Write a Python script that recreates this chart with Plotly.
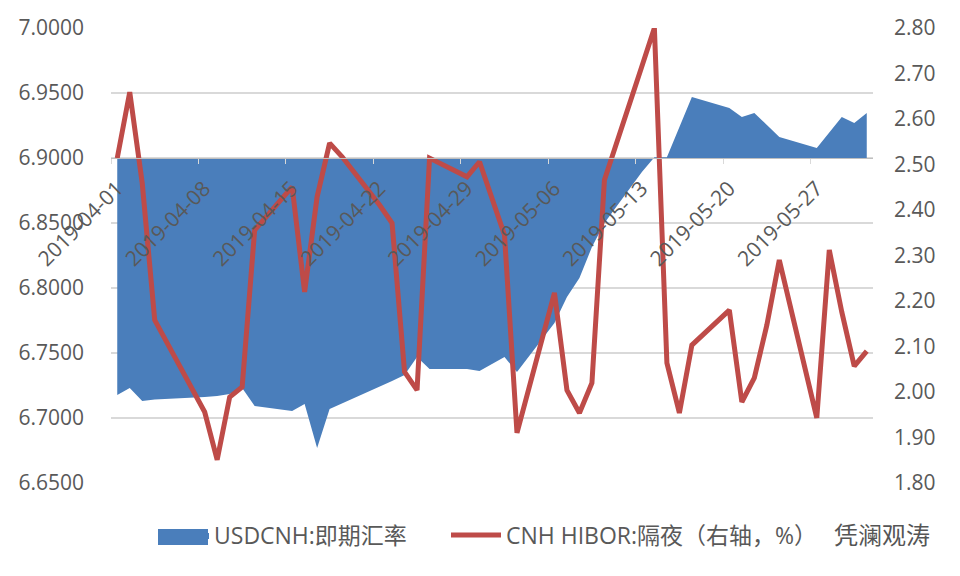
import plotly.graph_objects as go
import pandas as pd

dates = ["2019-04-01","2019-04-02","2019-04-03","2019-04-04","2019-04-08","2019-04-09","2019-04-10","2019-04-11","2019-04-12",
         "2019-04-15","2019-04-16","2019-04-17","2019-04-18","2019-04-19","2019-04-22","2019-04-23","2019-04-24","2019-04-25","2019-04-26",
         "2019-04-29","2019-04-30","2019-05-02","2019-05-03","2019-05-06","2019-05-07","2019-05-08","2019-05-09","2019-05-10",
         "2019-05-13","2019-05-14","2019-05-15","2019-05-16","2019-05-17","2019-05-20","2019-05-21","2019-05-22","2019-05-23","2019-05-24",
         "2019-05-27","2019-05-28","2019-05-29","2019-05-30","2019-05-31"]
usdcnh = [6.7177,6.7231,6.7131,6.7143,6.7162,6.7170,6.7185,6.7231,6.7092,
          6.7054,6.7108,6.6769,6.7069,6.7112,6.7238,6.7285,6.7331,6.7469,6.7377,
          6.7377,6.7362,6.7469,6.7354,6.7731,6.7931,6.8077,6.8315,6.8500,
          6.8892,6.9005,6.9005,6.9239,6.9469,6.9385,6.9315,6.9346,6.9254,6.9162,
          6.9077,6.9200,6.9315,6.9269,6.9346]
hibor = [2.514,2.659,2.459,2.158,1.956,1.851,1.989,2.011,2.356,
         2.451,2.220,2.429,2.547,2.517,2.411,2.371,2.044,2.004,2.514,
         2.473,2.506,2.345,1.910,2.218,2.004,1.954,2.020,2.466,
         2.716,2.800,2.064,1.954,2.103,2.180,1.978,2.031,2.147,2.290,
         1.943,2.312,2.176,2.057,2.090]
baseline_value = 6.9
tick_dates = ["2019-04-01","2019-04-08","2019-04-15","2019-04-22","2019-04-29","2019-05-06","2019-05-13","2019-05-20","2019-05-27"]
left_ticks = [6.65,6.70,6.75,6.80,6.85,6.90,6.95,7.00]
right_ticks = [1.8,1.9,2.0,2.1,2.2,2.3,2.4,2.5,2.6,2.7,2.8]
name_area = "USDCNH:即期汇率"
name_line = "CNH HIBOR:隔夜（右轴，%）"
watermark = "凭澜观涛"

FONT = "Open Sans, Noto Sans CJK SC, sans-serif"
GRAY = "#595959"
half_day = pd.Timedelta(hours=12)
tickvals = [pd.Timestamp(d) - half_day for d in tick_dates]
PAGE = 8  # default page margin around the figure
FW, FH = 960 - PAGE, 576 - 2 * PAGE
L, T, W, H = 111 - PAGE, 28 - PAGE, 762, 455
px = lambda x: (x - PAGE - L) / W
py = lambda y: (T + H - (y - PAGE)) / H

fig = go.Figure()
fig.add_trace(go.Scatter(x=dates, y=[baseline_value]*len(dates), mode="lines", line=dict(width=0),
                         showlegend=False, hoverinfo="skip"))
fig.add_trace(go.Scatter(x=dates, y=usdcnh, mode="lines", name=name_area, line=dict(width=0, color="#4A7EBB"),
                         fill="tonexty", fillcolor="#4A7EBB", legend="legend"))
fig.add_trace(go.Scatter(x=dates, y=hibor, mode="lines", name=name_line, yaxis="y2", cliponaxis=False,
                         line=dict(width=5, color="#BE4B48"), legend="legend2"))

legend_common = dict(orientation="h", xanchor="left", y=py(535), yanchor="middle",
                     font=dict(size=23, color=GRAY), itemwidth=50, bgcolor="rgba(0,0,0,0)")
fig.update_layout(
    template="none",
    width=FW, height=FH, autosize=False,
    margin=dict(l=L, r=FW-L-W, t=T, b=FH-T-H, pad=0, autoexpand=False),
    paper_bgcolor="white", plot_bgcolor="white",
    font=dict(family=FONT, size=21, color=GRAY),
    xaxis=dict(type="date", range=[pd.Timestamp("2019-04-01")-half_day, pd.Timestamp("2019-05-31")+half_day],
               anchor="free", position=(baseline_value-6.65)/0.35, automargin=False,
               tickvals=tickvals, ticktext=tick_dates, tickangle=-45,
               ticks="outside", ticklen=5, tickcolor="#d9d9d9", showgrid=False,
               showline=True, linecolor="#bfbfbf", linewidth=1, zeroline=False,
               ticklabelstandoff=4, ticklabelshift=6,
               tickfont=dict(size=21, color=GRAY)),
    yaxis=dict(range=[6.65,7.0], tickvals=left_ticks, tickformat=".4f", showgrid=True, gridcolor="#d9d9d9", gridwidth=1.5,
               zeroline=False, showline=False, ticks="", automargin=False, ticklabelstandoff=26,
               tickfont=dict(size=21, color=GRAY)),
    yaxis2=dict(range=[1.8,2.8], tickvals=right_ticks, tickformat=".2f", overlaying="y", side="right", showgrid=False,
                zeroline=False, showline=False, ticks="", automargin=False, ticklabelstandoff=20,
                tickfont=dict(size=21, color=GRAY)),
    legend=dict(x=px(154), **legend_common),
    legend2=dict(x=px(446), **legend_common),
    shapes=[dict(type="rect", xref="paper", yref="paper", x0=px(158), x1=px(208), y0=py(545), y1=py(529),
                 fillcolor="#4A7EBB", line=dict(width=0), layer="above")],
    annotations=[dict(text=watermark, xref="paper", yref="paper", x=px(932), y=py(534),
                      xanchor="right", yanchor="middle", showarrow=False,
                      font=dict(size=24, color="#555555", family=FONT))],
)
fig.write_html("out.html")
